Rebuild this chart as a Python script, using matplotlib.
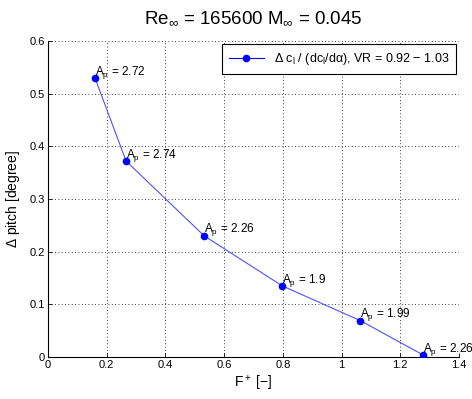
import matplotlib
matplotlib.use("Agg")
import matplotlib.pyplot as plt

# data
f_plus = [0.16, 0.266, 0.532, 0.798, 1.064, 1.277]
d_pitch = [0.530, 0.372, 0.230, 0.135, 0.069, 0.004]
amp = ["2.72", "2.74", "2.26", "1.9", "1.99", "2.26"]

x_ticks = [0, 0.2, 0.4, 0.6, 0.8, 1.0, 1.2, 1.4]
x_tick_labels = ["0", "0.2", "0.4", "0.6", "0.8", "1", "1.2", "1.4"]
y_ticks = [0, 0.1, 0.2, 0.3, 0.4, 0.5, 0.6]
y_tick_labels = ["0", "0.1", "0.2", "0.3", "0.4", "0.5", "0.6"]

plt.rcParams.update({
    "font.family": ["Liberation Sans", "DejaVu Sans"],
    "mathtext.fontset": "custom",
    "mathtext.rm": "Liberation Sans",
    "mathtext.it": "Liberation Sans",
    "mathtext.sf": "Liberation Sans",
    "xtick.direction": "in",
    "ytick.direction": "in",
    "xtick.labelsize": 8,
    "ytick.labelsize": 8,
})

fig = plt.figure(figsize=(4.72, 3.99), dpi=100)
ax = fig.add_axes([0.1017, 0.1053, 0.8708, 0.7919])

ax.plot(f_plus, d_pitch, color="#5050ff", linewidth=0.8, zorder=3)
ax.plot(f_plus, d_pitch, linestyle="none", marker="o", markersize=4.5,
        color="#0000ff", zorder=4)
# legend handle combining line and marker
ax.plot([], [], color="#0000ff", linewidth=0.8, marker="o", markersize=4.5,
        label=r"$\Delta$ c$_\mathregular{l}$ / (dc$_\mathregular{l}$/d$\alpha$), VR = 0.92 $-$ 1.03")

for x, y, a in zip(f_plus, d_pitch, amp):
    ax.annotate("A$_\\mathregular{p}$ = " + a, (x, y), xytext=(0, 2.5),
                textcoords="offset points", fontsize=8.5, ha="left",
                va="baseline", zorder=5)

ax.set_xlim(0, 1.4)
ax.set_ylim(0, 0.6)
ax.set_xticks(x_ticks)
ax.set_xticklabels(x_tick_labels)
ax.set_yticks(y_ticks)
ax.set_yticklabels(y_tick_labels)
ax.tick_params(length=3, width=0.6, pad=2)

ax.grid(True, linestyle=(0, (1, 3)), color="black", linewidth=0.6)
ax.spines["top"].set_visible(False)
ax.spines["right"].set_visible(False)
for s in ("left", "bottom"):
    ax.spines[s].set_linewidth(0.8)

ax.set_xlabel("F$^+$ [$-$]", fontsize=10, labelpad=3)
ax.set_ylabel(r"$\Delta$ pitch [degree]", fontsize=10, labelpad=6)
ax.set_title(r"Re$_\infty$ = 165600 M$_\infty$ = 0.045", fontsize=13.5, pad=13)

leg = ax.legend(loc="upper right", fontsize=9, fancybox=False, framealpha=1,
                edgecolor="black", borderpad=0.55, handlelength=2.8,
                borderaxespad=0.25)
leg.get_frame().set_linewidth(0.8)

fig.savefig("out.png", dpi=100)
